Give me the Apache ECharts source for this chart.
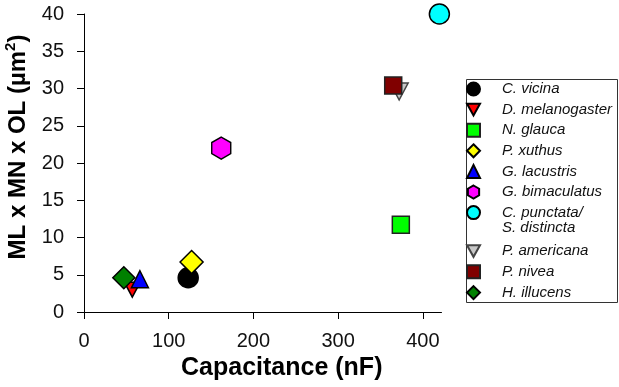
<!DOCTYPE html>
<html>
<head>
<meta charset="utf-8">
<script src="https://cdn.jsdelivr.net/npm/echarts@6/dist/echarts.min.js"></script>
<style>
  html, body { margin: 0; padding: 0; background: #fff; }
  #chart { width: 619px; height: 387px; }
</style>
</head>
<body>
<div id="chart"></div>
<script>
// species, in legend / drawing order
const species = ['C. vicina', 'D. melanogaster', 'N. glauca', 'P. xuthus', 'G. lacustris',
  'G. bimaculatus', 'C. punctata/', 'P. americana', 'P. nivea', 'H. illucens'];
// capacitance (nF) and ML x MN x OL (um^2)
const capacitance = [123, 57, 374, 127, 66, 162, 419.5, 372, 365, 47];
const volume = [4.6, 3.0, 11.7, 6.7, 4.4, 22.0, 40.0, 29.6, 30.4, 4.6];
const xTicks = [0, 100, 200, 300, 400];

const downTri = 'path://M0,0 L2,0 L1,1.8 Z';
const hexagon = 'path://M0.866,0 L1.732,0.5 L1.732,1.5 L0.866,2 L0,1.5 L0,0.5 Z';
const markers = [
  { symbol: 'circle', size: 20, color: '#000000', border: '#000' },
  { symbol: downTri, size: [16, 15], color: '#ff0000', border: '#000' },
  { symbol: 'rect', size: 17, color: '#00ff00', border: '#222' },
  { symbol: 'diamond', size: 23, color: '#ffff00', border: '#000' },
  { symbol: 'triangle', size: 17, color: '#0000ff', border: '#000' },
  { symbol: hexagon, size: [19, 22], color: '#ff00ff', border: '#000' },
  { symbol: 'circle', size: 20, color: '#00ffff', border: '#000' },
  { symbol: downTri, size: [18, 17], color: '#c8c8c8', border: '#444' },
  { symbol: 'rect', size: 17, color: '#800000', border: '#222' },
  { symbol: 'diamond', size: 22, color: '#008000', border: '#000' }
];

const font = 'Liberation Sans, Arial, sans-serif';
const chart = echarts.init(document.getElementById('chart'));

const series = species.map((name, i) => ({
  name: name,
  type: 'scatter',
  data: [[capacitance[i], volume[i]]],
  symbol: markers[i].symbol,
  symbolSize: markers[i].size,
  itemStyle: { color: markers[i].color, borderColor: markers[i].border, borderWidth: 1.5, opacity: 1 },
  emphasis: { disabled: true }
}));

const legendBase = {
  orient: 'vertical',
  left: 466,
  padding: 0,
  itemWidth: 13,
  itemHeight: 13,
  selectedMode: false,
  textStyle: { fontFamily: font, fontSize: 15, fontStyle: 'italic', color: '#111', lineHeight: 14, padding: [0, 0, 0, 17] }
};

const option = {
  animation: false,
  backgroundColor: '#fff',
  grid: { left: 84, top: 14, width: 357.5, height: 298, outerBoundsMode: 'none' },
  legend: [
    Object.assign({}, legendBase, { top: 81.5, itemGap: 5.6, data: species.slice(0, 7) }),
    Object.assign({}, legendBase, { top: 243.5, itemGap: 5.8, data: species.slice(7) })
  ],
  graphic: [
    { type: 'rect', shape: { x: 466.5, y: 79.5, width: 151, height: 223 },
      style: { fill: 'none', stroke: '#333', lineWidth: 1 }, silent: true },
    { type: 'text', x: 502, y: 228,
      style: { text: 'S. distincta', font: 'italic 15px ' + font, fill: '#111', verticalAlign: 'middle' } }
  ],
  xAxis: {
    type: 'value',
    min: 0,
    max: 422,
    interval: 100,
    splitLine: { show: false },
    axisLine: { onZero: false, lineStyle: { color: '#000', width: 1 } },
    axisTick: { length: 7, lineStyle: { color: '#000' }, customValues: xTicks },
    axisLabel: { fontFamily: font, fontSize: 20, color: '#111', margin: 19, customValues: xTicks },
    name: 'Capacitance (nF)',
    nameLocation: 'middle',
    nameGap: 44,
    nameTextStyle: { fontFamily: font, fontSize: 25, fontWeight: 'bold', color: '#000', padding: [0, 0, 0, 38] }
  },
  yAxis: {
    type: 'value',
    min: 0,
    max: 40,
    interval: 5,
    splitLine: { show: false },
    axisLine: { show: true, onZero: false, lineStyle: { color: '#000', width: 1 } },
    axisTick: { show: true, length: 7, lineStyle: { color: '#000' } },
    axisLabel: { fontFamily: font, fontSize: 20, color: '#111', margin: 20 },
    name: '{a|ML x MN x OL (\u00b5m}{s|2}{a|)}',
    nameLocation: 'middle',
    nameGap: 47,
    nameTextStyle: {
      padding: [0, 0, 0, 32],
      rich: {
        a: { fontFamily: font, fontSize: 24, fontWeight: 'bold', color: '#000', lineHeight: 30 },
        s: { fontFamily: font, fontSize: 15, fontWeight: 'bold', color: '#000', verticalAlign: 'top', lineHeight: 30 }
      }
    }
  },
  series: series
};

chart.setOption(option);
</script>
</body>
</html>
